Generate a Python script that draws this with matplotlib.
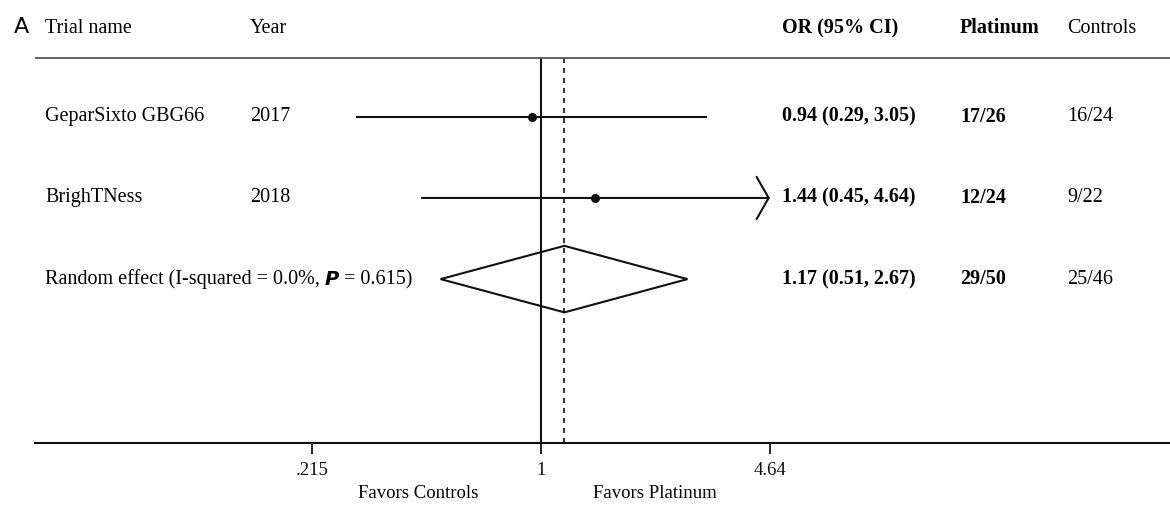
import numpy as np
import matplotlib
matplotlib.use('Agg')
import matplotlib.pyplot as plt
from matplotlib.patches import Polygon
from matplotlib.transforms import blended_transform_factory

plt.rcParams.update({
    'font.family': ['Liberation Serif', 'DejaVu Serif'],
    'font.size': 14.5,
})

# ── data ────────────────────────────────────────────────
trials    = ['GeparSixto GBG66', 'BrighTNess']
years     = ['2017', '2018']
or_val    = [0.94, 1.44]
ci_low    = [0.29, 0.45]
ci_high   = [3.05, 4.64]
platinum  = ['17/26', '12/24']
controls  = ['16/24', '9/22']

pooled_or, pooled_low, pooled_high = 1.17, 0.51, 2.67
pooled_plat, pooled_ctrl = '29/50', '25/46'
het_i2, het_p = '0.0%', '0.615'

xticks      = [0.215, 1, 4.64]
xtick_lbls  = ['.215', '1', '4.64']
x_clip      = 4.64          # display limit -> arrow

DARK = '#111111'

# ── figure ───────────────────────────────────────────────
W, H = 1170, 508
fig = plt.figure(figsize=(W / 100, H / 100), dpi=100)
ax = fig.add_axes([35 / W, 1 - 443 / H, 1 - 35 / W, 443 / H])
ax.set_xscale('log')
ax.set_xlim(0.0336, 67.9)
ax.set_ylim(5.02, -0.44)

rows = np.arange(1, len(trials) + 1)
pooled_row = len(trials) + 1
top_line = 0.27

# individual trials
for y, o, lo, hi in zip(rows, or_val, ci_low, ci_high):
    if hi >= x_clip:
        ax.annotate('', xy=(x_clip, y), xytext=(lo, y),
                    arrowprops=dict(arrowstyle='->,head_length=0.6,head_width=1.05',
                                    lw=1.5, color=DARK, shrinkA=0, shrinkB=0))
    else:
        ax.hlines(y, lo, hi, color=DARK, lw=1.5)
    ax.plot(o, y, 'o', color=DARK, ms=5.5, zorder=5)

# pooled diamond
dh = 0.41
ax.add_patch(Polygon([(pooled_low, pooled_row), (pooled_or, pooled_row - dh),
                      (pooled_high, pooled_row), (pooled_or, pooled_row + dh)],
                     closed=True, fill=False, ec=DARK, lw=1.5))

# reference lines
ax.vlines(1, top_line, 5.02, color=DARK, lw=1.5)
ax.vlines(pooled_or, top_line, 5.02, color=DARK, lw=1.2, ls=(0, (3, 3)))
ax.axhline(top_line, color='#555555', lw=1.3)

# axis styling
for s in ['top', 'right', 'left']:
    ax.spines[s].set_visible(False)
ax.spines['bottom'].set_linewidth(1.5)
ax.spines['bottom'].set_color(DARK)
ax.set_yticks([])
ax.set_xticks(xticks)
ax.set_xticklabels(xtick_lbls, fontsize=13.5)
ax.minorticks_off()
ax.tick_params(axis='x', length=8, width=1.3, direction='out', pad=6, colors=DARK)

# ── text columns ────────────────────────────────────────
tr = blended_transform_factory(fig.transFigure, ax.transData)
hdr_y = -0.09

def col(px):
    return px / W

C_NAME, C_YEAR, C_OR, C_PLAT, C_CTRL = col(45), col(250), col(782), col(960), col(1067)

fig.text(14 / W, 1 - 27 / H, 'A', family='DejaVu Sans', fontsize=16, va='center')
fig.text(C_NAME, hdr_y, 'Trial name', transform=tr, va='center')
fig.text(C_YEAR, hdr_y, 'Year', transform=tr, va='center')
fig.text(C_OR, hdr_y, 'OR (95% CI)', transform=tr, va='center', weight='bold')
fig.text(C_PLAT, hdr_y, 'Platinum', transform=tr, va='center', weight='bold')
fig.text(C_CTRL, hdr_y, 'Controls', transform=tr, va='center')

for y, name, yr, o, lo, hi, p, c in zip(rows, trials, years, or_val, ci_low, ci_high,
                                         platinum, controls):
    fig.text(C_NAME, y, name, transform=tr, va='center')
    fig.text(C_YEAR, y, yr, transform=tr, va='center')
    fig.text(C_OR, y, f'{o:.2f} ({lo:.2f}, {hi:.2f})', transform=tr,
             va='center', weight='bold')
    fig.text(C_PLAT, y, p, transform=tr, va='center', weight='bold')
    fig.text(C_CTRL, y, c, transform=tr, va='center')

t1 = fig.text(C_NAME, pooled_row, f'Random effect (I-squared = {het_i2}, ',
              transform=tr, va='center')
t2 = ax.annotate('P', xy=(1, 0), xycoords=t1, va='bottom', ha='left',
                 family='DejaVu Sans', style='italic', weight='bold', fontsize=14)
ax.annotate(f' = {het_p})', xy=(1, 0), xycoords=t2, va='bottom', ha='left')
fig.text(C_OR, pooled_row,
         f'{pooled_or:.2f} ({pooled_low:.2f}, {pooled_high:.2f})',
         transform=tr, va='center', weight='bold')
fig.text(C_PLAT, pooled_row, pooled_plat, transform=tr, va='center', weight='bold')
fig.text(C_CTRL, pooled_row, pooled_ctrl, transform=tr, va='center')

fig.text(418 / W, 1 - 494 / H, 'Favors Controls', ha='center', va='center', fontsize=13.5)
fig.text(655 / W, 1 - 494 / H, 'Favors Platinum', ha='center', va='center', fontsize=13.5)

fig.savefig('out.png', dpi=100)
